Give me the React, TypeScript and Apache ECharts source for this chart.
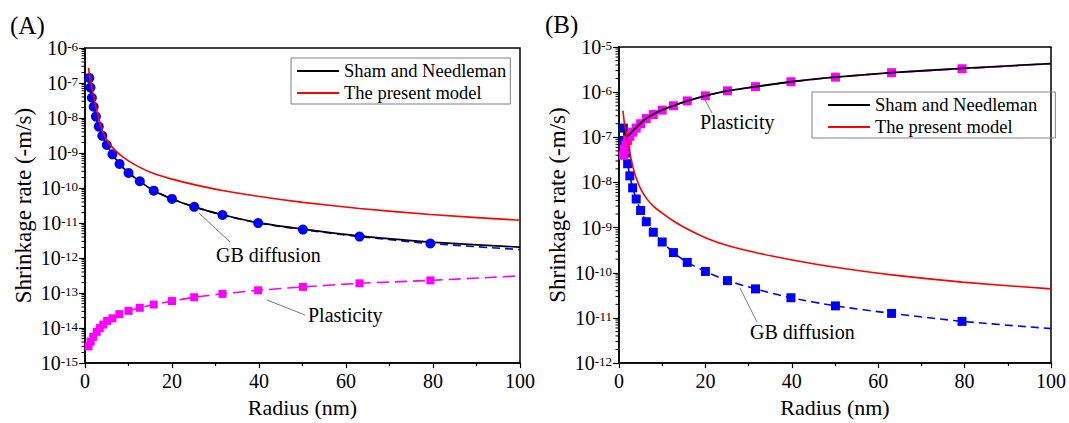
import React, { useEffect, useRef } from 'react';
import * as echarts from 'echarts';

const FONT = 'Liberation Serif, Times New Roman, Times, serif';

// ---------- Panel A ----------
const A_R = [1, 1.26, 1.58, 2, 2.51, 3.16, 3.98, 5.01, 6.31, 7.94, 10, 12.6, 15.8, 20, 25.1, 31.6, 39.8, 50.1, 63.1, 79.4, 100];
const A_sham = [1.4e-7, 7.4e-8, 3.8e-8, 2.1e-8, 1.1e-8, 5.7e-9, 3.1e-9, 1.7e-9, 9.2e-10, 4.9e-10, 2.7e-10, 1.56e-10, 8.4e-11, 4.9e-11, 2.9e-11, 1.72e-11, 1.03e-11, 6.7e-12, 4.3e-12, 2.85e-12, 2.05e-12];
const A_gb = [1.4e-7, 7.4e-8, 3.8e-8, 2.1e-8, 1.1e-8, 5.7e-9, 3.1e-9, 1.7e-9, 9.2e-10, 4.9e-10, 2.7e-10, 1.56e-10, 8.4e-11, 4.9e-11, 2.9e-11, 1.7e-11, 1.0e-11, 6.5e-12, 4.1e-12, 2.6e-12, 1.75e-12];
const A_plR = [0.8, 1.3, 1.9, 2.7, 3.4, 4.2, 5.1, 6.3, 7.9, 10, 12.6, 15.8, 20, 25.1, 31.6, 39.8, 50.1, 63.1, 79.4, 100];
const A_pl = [3.0e-15, 4.1e-15, 5.6e-15, 7.8e-15, 1.0e-14, 1.26e-14, 1.6e-14, 1.9e-14, 2.5e-14, 3.1e-14, 3.8e-14, 4.7e-14, 5.9e-14, 7.6e-14, 9.5e-14, 1.2e-13, 1.5e-13, 1.9e-13, 2.3e-13, 3.1e-13];
const A_modelR = [0.8, 1, 1.26, 1.58, 2, 2.51, 3.16, 3.98, 5.01, 6.31, 7.94, 10, 12.6, 15.8, 20, 25.1, 31.6, 39.8, 50.1, 63.1, 79.4, 100];
const A_model = [2.7e-7, 1.8e-7, 1.2e-7, 7.5e-8, 4.2e-8, 2.1e-8, 1.0e-8, 4.4e-9, 2.4e-9, 1.45e-9, 9.2e-10, 6.0e-10, 3.9e-10, 2.6e-10, 1.8e-10, 1.25e-10, 8.5e-11, 5.8e-11, 3.9e-11, 2.6e-11, 1.75e-11, 1.2e-11];

// ---------- Panel B ----------
const B_R = [1, 1.26, 1.58, 2, 2.51, 3.16, 3.98, 5.01, 6.31, 7.94, 10, 12.6, 15.8, 20, 25.1, 31.6, 39.8, 50.1, 63.1, 79.4, 100];
const B_gb = [1.6e-7, 8.5e-8, 4.5e-8, 2.6e-8, 1.4e-8, 7.6e-9, 4.3e-9, 2.4e-9, 1.35e-9, 7.9e-10, 4.8e-10, 2.8e-10, 1.7e-10, 1.07e-10, 6.7e-11, 4.4e-11, 2.8e-11, 1.85e-11, 1.26e-11, 8.4e-12, 5.8e-12];
const B_pl = [4.0e-8, 5.3e-8, 6.8e-8, 8.5e-8, 1.05e-7, 1.3e-7, 1.6e-7, 2.0e-7, 2.6e-7, 3.2e-7, 4.0e-7, 5.0e-7, 6.4e-7, 8.3e-7, 1.07e-6, 1.32e-6, 1.7e-6, 2.15e-6, 2.7e-6, 3.3e-6, 4.3e-6];
const B_sham = [1.9e-7, 1.35e-7, 1.1e-7, 1.08e-7, 1.18e-7, 1.38e-7, 1.65e-7, 2.05e-7, 2.6e-7, 3.25e-7, 4.05e-7, 5.0e-7, 6.4e-7, 8.3e-7, 1.07e-6, 1.32e-6, 1.7e-6, 2.15e-6, 2.7e-6, 3.35e-6, 4.3e-6];
const B_modelR = [0.9, 1, 1.26, 1.58, 2, 2.51, 3.16, 3.98, 5.01, 6.31, 7.94, 10, 12.6, 15.8, 20, 25.1, 31.6, 39.8, 50.1, 63.1, 79.4, 100];
const B_model = [3.9e-7, 3.2e-7, 2.0e-7, 1.3e-7, 8.0e-8, 4.5e-8, 2.3e-8, 1.25e-8, 7.2e-9, 4.5e-9, 3.0e-9, 2.1e-9, 1.4e-9, 9.3e-10, 6.0e-10, 4.0e-10, 2.8e-10, 1.95e-10, 1.33e-10, 9.0e-11, 6.2e-11, 4.4e-11];

// ---------- Axes ----------
const xTicksMax = 100;
const A_yMin = 1e-15, A_yMax = 1e-6;
const B_yMin = 1e-12, B_yMax = 1e-5;
const LEGEND_ITEMS = ['Sham and Needleman', 'The present model'];

const pairs = (xs: number[], ys: number[]) => xs.map((x, i) => [x, ys[i]]);
const markers = (xs: number[], ys: number[]) => pairs(xs, ys).filter((p) => p[0] < 100);

function minorValues(min: number, max: number) {
  const out: number[][] = [];
  const e0 = Math.round(Math.log10(min));
  const e1 = Math.round(Math.log10(max));
  for (let e = e0; e < e1; e++) {
    for (let k = 2; k <= 9; k++) out.push([0, k * Math.pow(10, e)]);
  }
  return out;
}

export default function App() {
  const ref = useRef<HTMLDivElement>(null);
  useEffect(() => {
    if (!ref.current) return;
    const chart = echarts.init(ref.current, undefined, { renderer: 'svg' });

    const tickFont = { fontFamily: FONT, color: '#000' };
    const yLabel = {
      margin: 7,
      formatter: (v: number) => `{b|10}{s|${Math.round(Math.log10(v))}}`,
      rich: {
        b: { ...tickFont, fontSize: 20, lineHeight: 20, verticalAlign: 'bottom', padding: [10, 0, 0, 0] },
        s: { ...tickFont, fontSize: 13, lineHeight: 13, verticalAlign: 'top', padding: [2, 0, 0, 0] },
      },
    };
    const xAxisBase = (gi: number) => ({
      gridIndex: gi,
      type: 'value',
      min: 0,
      max: xTicksMax,
      interval: 20,
      name: 'Radius (nm)',
      nameLocation: 'middle',
      nameGap: 26,
      nameTextStyle: { fontFamily: FONT, fontSize: 22, color: '#000' },
      axisLine: { lineStyle: { color: '#000', width: 1.5 } },
      axisTick: { show: true, length: 5, inside: false, lineStyle: { color: '#000', width: 1.2 } },
      minorTick: { show: true, splitNumber: 2, length: 3, lineStyle: { color: '#000', width: 1.2 } },
      axisLabel: { ...tickFont, fontSize: 20, margin: 8 },
      splitLine: { show: false },
    });
    const yAxisBase = (gi: number, min: number, max: number, split: number) => ({
      gridIndex: gi,
      type: 'log',
      logBase: 10,
      min,
      max,
      splitNumber: split,
      name: 'Shrinkage rate (-m/s)',
      nameLocation: 'middle',
      nameGap: 50,
      nameTextStyle: { fontFamily: FONT, fontSize: 23, color: '#000' },
      axisLine: { show: true, lineStyle: { color: '#000', width: 1.5 } },
      axisTick: { show: true, length: 6, inside: false, lineStyle: { color: '#000', width: 1.2 } },
      axisLabel: yLabel,
      splitLine: { show: false },
      minorTick: { show: false },
    });

    const line = (name: string, gi: number, data: number[][], color: string, type: any, width: number, z: number) => ({
      name,
      type: 'line',
      xAxisIndex: gi,
      yAxisIndex: gi,
      data,
      showSymbol: false,
      symbol: 'none',
      smooth: 0.2,
      lineStyle: { color, width, type },
      itemStyle: { color },
      z,
    });
    const scatter = (gi: number, data: number[][], color: string, symbol: string, size: number, z: number) => ({
      type: 'scatter',
      xAxisIndex: gi,
      yAxisIndex: gi,
      data,
      symbol,
      symbolSize: size,
      itemStyle: { color, opacity: 1 },
      z,
    });
    const minorTickSeries = (gi: number, min: number, max: number) => ({
      type: 'custom',
      xAxisIndex: gi,
      yAxisIndex: gi,
      clip: false,
      silent: true,
      data: minorValues(min, max),
      renderItem: (_p: any, api: any) => {
        const pt = api.coord([0, api.value(1)]);
        return {
          type: 'line',
          shape: { x1: pt[0] - 3.5, y1: pt[1], x2: pt[0], y2: pt[1] },
          style: { stroke: '#000', lineWidth: 1 },
        };
      },
      z: 5,
    });

    const legendBase = (left: number, top: number, padding: number[]) => ({
      data: LEGEND_ITEMS.map((n) => ({ name: n, icon: 'rect' })),
      orient: 'vertical',
      left,
      top,
      padding,
      itemGap: 2,
      itemWidth: 42,
      itemHeight: 2,
      borderColor: '#808080',
      borderWidth: 1,
      borderRadius: 0,
      selectedMode: false,
      textStyle: { fontFamily: FONT, fontSize: 18.5, color: '#000', lineHeight: 20 },
    });

    const annText = (text: string, x: number, y: number) => ({
      type: 'text',
      style: { text, x, y, fill: '#000', fontSize: 20, fontFamily: FONT, textAlign: 'left', textVerticalAlign: 'middle', align: 'left', verticalAlign: 'middle' },
      z: 100,
    });
    const annLine = (x1: number, y1: number, x2: number, y2: number) => ({
      type: 'line',
      shape: { x1, y1, x2, y2 },
      style: { stroke: '#555', lineWidth: 0.8 },
      z: 100,
    });

    chart.setOption({
      animation: false,
      backgroundColor: '#fff',
      textStyle: { fontFamily: FONT },
      grid: [
        { left: 85, top: 48, width: 435, height: 322, show: true, borderColor: '#000', borderWidth: 1.5, backgroundColor: 'transparent' },
        { left: 619, top: 47, width: 436, height: 321, show: true, borderColor: '#000', borderWidth: 1.5, backgroundColor: 'transparent' },
      ],
      xAxis: [xAxisBase(0), xAxisBase(1)],
      yAxis: [yAxisBase(0, A_yMin, A_yMax, 9), yAxisBase(1, B_yMin, B_yMax, 7)],
      legend: [
        legendBase(291, 58, [3, 4, 1, 6]),
        legendBase(812, 92, [3, 18, 1, 16]),
      ],
      series: [
        // Panel A
        line('GB diffusion A', 0, pairs(A_R, A_gb), '#0000ff', [8, 5], 1.6, 2),
        line('Sham and Needleman', 0, pairs(A_R, A_sham), '#000000', 'solid', 1.6, 3),
        scatter(0, markers(A_R, A_gb), '#0000ff', 'circle', 10, 4),
        line('Plasticity A', 0, pairs(A_plR, A_pl), '#ff00ff', [12, 6], 1.6, 2),
        scatter(0, markers(A_plR, A_pl), '#ff00ff', 'rect', 8, 4),
        line('The present model', 0, pairs(A_modelR, A_model), '#ff0000', 'solid', 1.6, 6),
        minorTickSeries(0, A_yMin, A_yMax),
        // Panel B
        line('GB diffusion B', 1, pairs(B_R, B_gb), '#0000ff', [8, 5], 1.6, 2),
        scatter(1, markers(B_R, B_gb), '#0000ff', 'rect', 9, 4),
        line('Plasticity B', 1, pairs(B_R, B_pl), '#ff00ff', [12, 6], 1.6, 2),
        scatter(1, markers(B_R, B_pl), '#ff00ff', 'rect', 9, 4),
        line('Sham and Needleman', 1, pairs(B_R, B_sham), '#000000', 'solid', 1.8, 5),
        line('The present model', 1, pairs(B_modelR, B_model), '#ff0000', 'solid', 1.6, 6),
        minorTickSeries(1, B_yMin, B_yMax),
      ],
      graphic: [
        { type: 'text', style: { text: '(A)', x: 10, y: 25, fill: '#000', fontSize: 25, fontFamily: FONT, textVerticalAlign: 'middle', verticalAlign: 'middle' } },
        { type: 'text', style: { text: '(B)', x: 545, y: 24, fill: '#000', fontSize: 25, fontFamily: FONT, textVerticalAlign: 'middle', verticalAlign: 'middle' } },
        annLine(199, 213, 230, 242),
        annText('GB diffusion', 216, 255),
        annLine(267, 300, 305, 315),
        annText('Plasticity', 308, 315),
        annLine(705, 100, 712, 113),
        annText('Plasticity', 700, 122),
        annLine(740, 288, 757, 322),
        annText('GB diffusion', 750, 332),
      ],
    } as any);
    return () => chart.dispose();
  }, []);
  return <div ref={ref} style={{ position: 'fixed', left: 0, top: 0, width: 1069, height: 423, background: '#fff' }} />;
}
